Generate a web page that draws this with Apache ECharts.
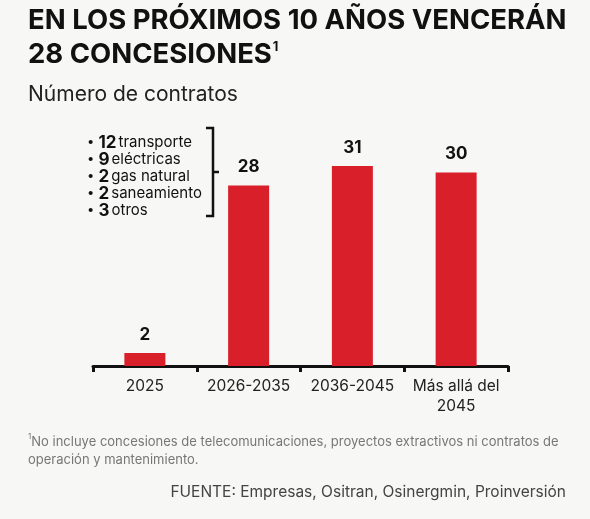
<!DOCTYPE html>
<html><head><meta charset="utf-8">
<script src="https://cdn.jsdelivr.net/npm/echarts@6/dist/echarts.min.js"></script>
<style>html,body{margin:0;padding:0;background:#f7f7f5}#c{width:590px;height:519px}</style>
</head><body><div id="c"></div>
<script>
const categories = ['2025', '2026-2035', '2036-2045', 'Más allá del\n2045'];
const values = [2, 28, 31, 30];
const breakdownNums = [12, 9, 2, 2, 3];
const breakdownLabels = ['transporte', 'eléctricas', 'gas natural', 'saneamiento', 'otros'];

const FONT = 'Inter, "Open Sans", sans-serif';
const chart = echarts.init(document.getElementById('c'));

const listText = breakdownNums.map((n, i) => '{d|•} {n|' + n + '}{t|' + breakdownLabels[i] + '}').join('\n');

chart.setOption({
  backgroundColor: '#f7f7f5',
  animation: false,
  grid: { left: 93, right: 82, top: 108, bottom: 153 },
  xAxis: {
    type: 'category',
    data: categories,
    axisLine: { show: true, lineStyle: { color: '#111', width: 3 } },
    axisTick: { show: true, length: 6, lineStyle: { color: '#111', width: 3 }, alignWithLabel: false },
    axisLabel: { interval: 0, color: '#222', fontSize: 15.5, fontFamily: FONT, margin: 10, lineHeight: 20 }
  },
  yAxis: { type: 'value', min: 0, max: 40, show: false, splitLine: { show: false } },
  series: [{
    type: 'bar',
    data: values,
    barWidth: 41,
    itemStyle: { color: '#d9202a' },
    label: { show: true, position: 'top', distance: 10, color: '#111', fontSize: 17, fontWeight: 'bold', fontFamily: FONT }
  }],
  graphic: [
    { type: 'text', left: 28, top: 7, style: { text: 'EN LOS PRÓXIMOS 10 AÑOS VENCERÁN', fill: '#111', font: 'bold 27.5px ' + FONT } },
    { type: 'text', left: 28, top: 41, style: {
        text: '28 CONCESIONES{s|1}', fill: '#111', font: 'bold 27.5px ' + FONT,
        rich: { s: { fontSize: 13, fontWeight: 'bold', fontFamily: FONT, fill: '#111', verticalAlign: 'top', padding: [0, 0, 13, 1] } }
    } },
    { type: 'text', left: 28, top: 84, style: { text: 'Número de contratos', fill: '#222', font: '21px ' + FONT } },
    { type: 'text', left: 87, top: 134, style: {
        text: listText, fill: '#111', font: '15px ' + FONT, lineHeight: 17,
        rich: {
          d: { fontSize: 13, fontFamily: FONT, fill: '#111', lineHeight: 17 },
          n: { fontSize: 17, fontWeight: 'bold', fontFamily: FONT, fill: '#111', lineHeight: 17, padding: [0, 2, 0, 0] },
          t: { fontSize: 15, fontFamily: FONT, fill: '#111', lineHeight: 17 }
        }
    } },
    { type: 'polyline', shape: { points: [[206, 128], [213, 128], [213, 216], [206, 216]] }, style: { stroke: '#111', lineWidth: 2.5, fill: null } },
    { type: 'line', shape: { x1: 213, y1: 172, x2: 219, y2: 172 }, style: { stroke: '#111', lineWidth: 2.5 } },
    { type: 'text', left: 28, top: 433, style: {
        text: '{s|1}No incluye concesiones de telecomunicaciones, proyectos extractivos ni contratos de\noperación y mantenimiento.',
        fill: '#777', font: '13px ' + FONT, lineHeight: 18,
        rich: { s: { fontSize: 8, fontFamily: FONT, fill: '#777', verticalAlign: 'top', padding: [0, 0, 6, 0] } }
    } },
    { type: 'text', right: 24, top: 484, style: { text: 'FUENTE: Empresas, Ositran, Osinergmin, Proinversión', fill: '#444', font: '15.5px ' + FONT, textAlign: 'right' } }
  ]
});
</script></body></html>
